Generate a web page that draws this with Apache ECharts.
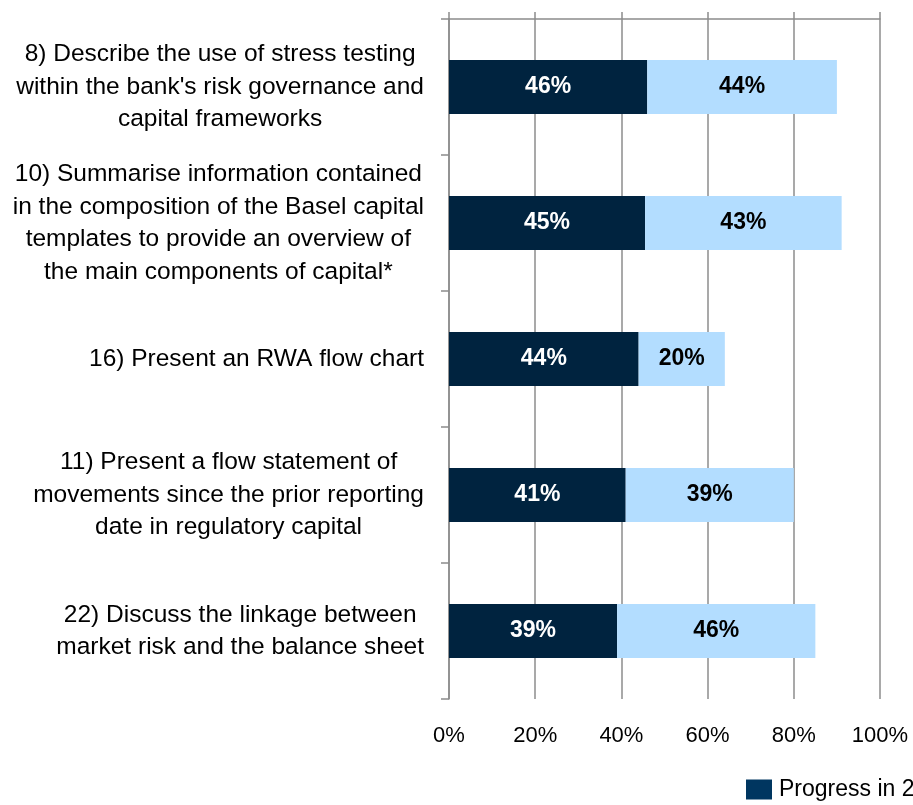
<!DOCTYPE html>
<html><head><meta charset="utf-8">
<script src="https://cdn.jsdelivr.net/npm/echarts@6/dist/echarts.min.js"></script>
<style>html,body{margin:0;padding:0;background:#fff}#c{width:913px;height:805px}</style>
</head><body><div id="c"></div>
<script>
const categories = [
  "8) Describe the use of stress testing\nwithin the bank's risk governance and\ncapital frameworks",
  "10) Summarise information contained\nin the composition of the Basel capital\ntemplates to provide an overview of\nthe main components of capital*",
  "16) Present an RWA flow chart",
  "11) Present a flow statement of\nmovements since the prior reporting\ndate in regulatory capital",
  "22) Discuss the linkage between\nmarket risk and the balance sheet"
];
// bar lengths as drawn in the picture
const progressValues = [46, 45.5, 44, 41, 39];
const remainingValues = [44, 45.6, 20, 39, 46];
// percentages printed on the bars
const progressLabels = ["46%", "45%", "44%", "41%", "39%"];
const remainingLabels = ["44%", "43%", "20%", "39%", "46%"];
const seriesNames = ["Progress in 2013", "Further progress planned"];
const xTicks = [0, 20, 40, 60, 80, 100];

const FONT = "Liberation Sans";
const chart = echarts.init(document.getElementById('c'), null, {renderer: 'canvas'});
const gridColor = '#8c8c8c';
chart.setOption({
  animation: false,
  textStyle: {fontFamily: FONT},
  legend: {
    left: 746, top: 776, icon: 'rect', padding: [2, 0, 0, 0],
    itemWidth: 26, itemHeight: 20, itemGap: 30,
    textStyle: {fontSize: 23, color: '#000', fontFamily: FONT, padding: [0, 0, 0, 2]},
    data: [
      {name: seriesNames[0], itemStyle: {color: '#003660'}},
      {name: seriesNames[1]}
    ]
  },
  grid: {left: 449, right: 33, top: 19, bottom: 106, containLabel: false},
  xAxis: [{
    type: 'value', min: xTicks[0], max: xTicks[xTicks.length - 1], interval: 20,
    position: 'bottom',
    axisLine: {show: false},
    axisTick: {show: false},
    splitLine: {show: true, lineStyle: {color: gridColor, width: 1.5}},
    axisLabel: {formatter: v => v + '%', fontSize: 22, color: '#000', margin: 26, fontFamily: FONT}
  }, {
    type: 'value', min: 0, max: 100, interval: 20,
    position: 'top',
    axisLine: {show: true, lineStyle: {color: gridColor, width: 1.5}},
    axisTick: {show: true, length: 7, lineStyle: {color: gridColor, width: 1.5}},
    splitLine: {show: false},
    axisLabel: {show: false}
  }],
  yAxis: {
    type: 'category', inverse: true, data: categories,
    axisLine: {show: true, lineStyle: {color: gridColor, width: 1.5}},
    axisTick: {show: true, length: 8, lineStyle: {color: gridColor, width: 1.5}},
    axisLabel: {
      margin: 25, align: 'right', fontSize: 24.5, color: '#000', lineHeight: 32.5,
      fontFamily: FONT,
      formatter: v => v.split('\n').map(l => '{c|' + l + '}').join('\n'),
      rich: {c: {align: 'center', fontSize: 24.5, lineHeight: 32.5, color: '#000', fontFamily: FONT}}
    }
  },
  series: [{
    name: seriesNames[0], type: 'bar', stack: 's', data: progressValues,
    barWidth: 54, xAxisIndex: 0,
    itemStyle: {color: '#00233f'},
    label: {show: true, position: 'inside', formatter: p => progressLabels[p.dataIndex], color: '#fff', fontWeight: 'bold', fontSize: 23, fontFamily: FONT}
  }, {
    name: seriesNames[1], type: 'bar', stack: 's', data: remainingValues,
    barWidth: 54, xAxisIndex: 0,
    itemStyle: {color: '#b3ddff'},
    label: {show: true, position: 'inside', formatter: p => remainingLabels[p.dataIndex], color: '#000', fontWeight: 'bold', fontSize: 23, fontFamily: FONT}
  }]
});
</script></body></html>
